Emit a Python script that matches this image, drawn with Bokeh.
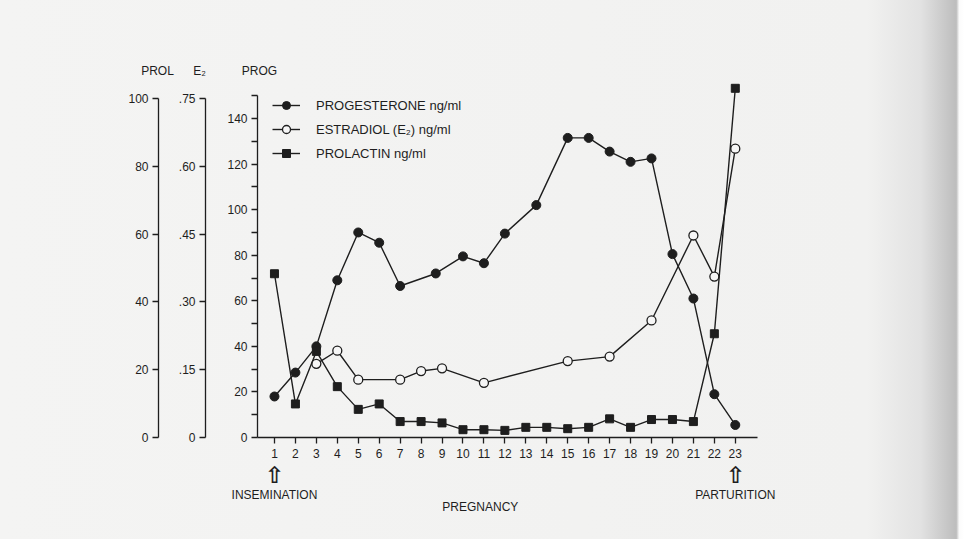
from bokeh.plotting import figure
from bokeh.layouts import column
from bokeh.models import LinearAxis, Range1d, FixedTicker, Legend, LegendItem, Label
from bokeh.embed import file_html
from bokeh.resources import INLINE

# Hormone levels through pregnancy (day of pregnancy on x)
days_prog = [1, 2, 3, 4, 5, 6, 7, 8.7, 10, 11, 12, 13.5, 15, 16, 17, 18, 19, 20, 21, 22, 23]
progesterone = [18, 28.5, 40, 69, 90, 85.5, 66.5, 72, 79.5, 76.5, 89.5, 102,
                131.5, 131.5, 125.5, 121, 122.5, 80.5, 61, 19, 5.5]          # ng/ml

days_e2 = [3, 4, 5, 7, 8, 9, 11, 15, 17, 19, 21, 22, 23]
estradiol = [0.163, 0.192, 0.128, 0.128, 0.147, 0.153, 0.121, 0.169, 0.179,
             0.259, 0.447, 0.356, 0.639]                                      # ng/ml

days_prol = list(range(1, 24))
prolactin = [48.3, 9.9, 25.4, 15, 8.3, 9.9, 4.7, 4.7, 4.3, 2.3, 2.3, 2.1, 3.0,
             3.0, 2.6, 3.0, 5.5, 3.0, 5.3, 5.3, 4.7, 30.6, 103]               # ng/ml

day_ticks = list(range(1, 24))
prog_ticks = [0, 20, 40, 60, 80, 100, 120, 140]
prol_ticks = [0, 20, 40, 60, 80, 100]
e2_ticks = [0, 0.15, 0.30, 0.45, 0.60, 0.75]
e2_tick_labels = {0: "0", 0.15: ".15", 0.3: ".30", 0.45: ".45", 0.6: ".60", 0.75: ".75"}

headers = ["PROL", "E\u2082", "PROG"]
events = {1: "INSEMINATION", 23: "PARTURITION"}
phase = "PREGNANCY"

INK = "#1e1e1e"
FONT = "Liberation Sans"
W, H, HEAD_H = 964, 539, 80

# ---- strip above the chart carrying the axis headers (pixel coordinates) ----
head = figure(width=W, height=HEAD_H, output_backend="svg", toolbar_location=None,
              x_range=Range1d(0, W), y_range=Range1d(HEAD_H, 0),
              x_axis_location=None, y_axis_location=None,
              min_border=0, background_fill_color=None, border_fill_color=None,
              outline_line_color=None)
head.frame_align = False
head.grid.visible = False
for txt, hx in zip(headers, [157, 199, 259]):
    head.add_layout(Label(x=hx, y=70, text=txt, text_align="center", text_baseline="middle",
                          text_font=FONT, text_font_size="12px", text_color=INK))

# ---- main chart ----
p = figure(width=W, height=H - HEAD_H, output_backend="svg", toolbar_location=None,
           x_range=Range1d(0.19, 24.06), y_range=Range1d(0, 156.7),
           min_border_left=257, min_border_right=207, min_border_top=0, min_border_bottom=102,
           background_fill_color=None, border_fill_color=None, outline_line_color=None)
p.frame_align = False
p.grid.visible = False

p.extra_y_ranges = {"prol": Range1d(0, 105.3), "e2": Range1d(0, 0.7899)}


def style_axis(ax, size="12px"):
    ax.axis_line_color = INK
    ax.axis_line_width = 1.3
    ax.major_tick_line_color = INK
    ax.major_tick_line_width = 1.3
    ax.minor_tick_line_color = INK
    ax.minor_tick_line_width = 1.3
    ax.major_tick_in = 0
    ax.major_tick_out = 6
    ax.minor_tick_in = 0
    ax.minor_tick_out = 6
    ax.major_label_text_font = FONT
    ax.major_label_text_font_size = size
    ax.major_label_text_color = INK
    ax.major_label_standoff = 4
    ax.axis_label_text_font_size = "10px"


def text_axis(ticks, labels, standoff, size="12px", font=FONT, style="normal"):
    """An axis with no line or ticks, used only to set text along the day direction."""
    return LinearAxis(ticker=FixedTicker(ticks=ticks, minor_ticks=[]),
                      major_label_overrides=dict(zip(ticks, labels)),
                      axis_line_alpha=0, major_tick_line_alpha=0, minor_tick_line_alpha=0,
                      major_tick_in=0, major_tick_out=0, minor_tick_in=0, minor_tick_out=0,
                      major_label_standoff=standoff, major_label_text_font=font,
                      major_label_text_font_style=style,
                      major_label_text_font_size=size, major_label_text_color=INK)


# progesterone axis (next to the plot)
ya = p.yaxis[0]
style_axis(ya)
ya.ticker = FixedTicker(ticks=prog_ticks, minor_ticks=[10, 30, 50, 70, 90, 110, 130, 150])
ya.bounds = (0, 150)
ya.axis_label = " "
ya.axis_label_standoff = 5

# estradiol axis
e2_axis = LinearAxis(y_range_name="e2", ticker=FixedTicker(ticks=e2_ticks, minor_ticks=[]),
                     major_label_overrides=e2_tick_labels, bounds=(0, 0.75))
style_axis(e2_axis)
e2_axis.axis_label = " "
e2_axis.axis_label_standoff = 3
p.add_layout(e2_axis, "left")

# prolactin axis (outermost)
prol_axis = LinearAxis(y_range_name="prol", ticker=FixedTicker(ticks=prol_ticks, minor_ticks=[]),
                       bounds=(0, 100))
style_axis(prol_axis)
p.add_layout(prol_axis, "left")

# day axis
xa = p.xaxis[0]
style_axis(xa, "12px")
xa.ticker = FixedTicker(ticks=day_ticks, minor_ticks=[])
xa.major_label_standoff = 5

# arrows and event names below the day axis, then the phase name
p.add_layout(text_axis(list(events), ["\u21e7"] * len(events), 1, size="23px",
                       font="DejaVu Sans", style="bold"), "below")
p.add_layout(text_axis(list(events), list(events.values()), -3), "below")
p.add_layout(text_axis([10.83], [phase], -5), "below")

# series
lw = 1.4
prog_line = p.line(days_prog, progesterone, line_color=INK, line_width=lw)
prog_pts = p.scatter(days_prog, progesterone, marker="circle", size=9,
                     fill_color=INK, line_color=INK)

e2_line = p.line(days_e2, estradiol, y_range_name="e2", line_color=INK, line_width=lw)
e2_pts = p.scatter(days_e2, estradiol, y_range_name="e2", marker="circle", size=9,
                   fill_color="#f6f6f6", line_color=INK, line_width=1.3)

prol_line = p.line(days_prol, prolactin, y_range_name="prol", line_color=INK, line_width=lw)
prol_pts = p.scatter(days_prol, prolactin, y_range_name="prol", marker="square", size=8,
                     fill_color=INK, line_color=INK)

legend = Legend(items=[
    LegendItem(label="PROGESTERONE ng/ml", renderers=[prog_line, prog_pts]),
    LegendItem(label="ESTRADIOL (E\u2082) ng/ml", renderers=[e2_line, e2_pts]),
    LegendItem(label="PROLACTIN ng/ml", renderers=[prol_line, prol_pts]),
], location="top_left", margin=0, padding=15, spacing=4, glyph_width=28, glyph_height=20,
    label_height=20, label_standoff=16, label_text_font=FONT, label_text_font_size="13px",
    label_text_color=INK, background_fill_alpha=0, border_line_alpha=0)
p.add_layout(legend)

page = column(head, p, spacing=0)
page.styles = {"background": "linear-gradient(to right, #f4f4f3 0%, #f1f1f0 90%, #e2e2e2 95.5%, "
                             "#bdbdbd 99.2%, #fbfbfb 99.5%, #ffffff 100%)"}

open("out.html", "w").write(file_html(page, INLINE))
